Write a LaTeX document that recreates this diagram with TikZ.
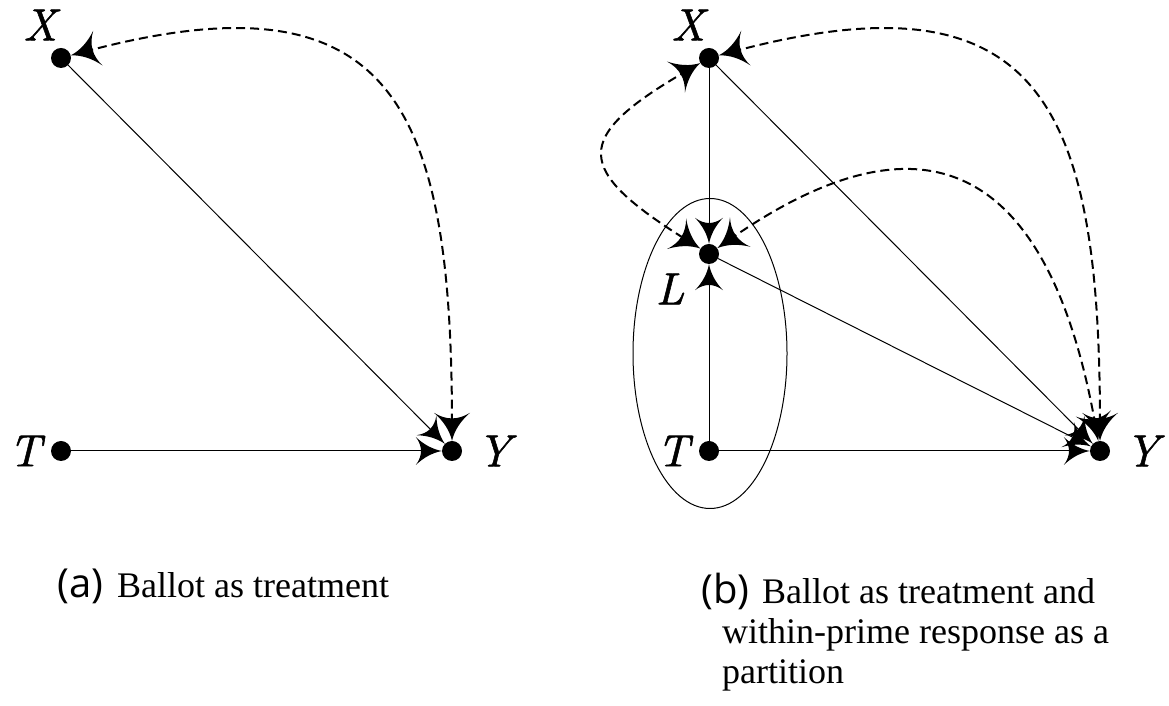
\RequirePackage{fix-cm}
\documentclass[tikz,border=0pt]{standalone}
\usepackage{fontspec}
\newfontfamily\capsans{Open Sans}
\newfontfamily\capserif{Liberation Serif}
\newfontface\labfont{lmroman10-italic.otf}[FakeBold=1.2]
\usetikzlibrary{arrows.meta}
\pgfdeclarearrow{
  name = Cusp,
  parameters = {\the\pgfarrowlength,\the\pgfarrowwidth},
  setup code = {
    \pgfarrowssettipend{0pt}
    \pgfarrowssetlineend{-.5\pgfarrowlength}
    \pgfarrowssetvisualbackend{-.6\pgfarrowlength}
    \pgfarrowssetbackend{-\pgfarrowlength}
    \pgfarrowshullpoint{0pt}{0pt}
    \pgfarrowshullpoint{-\pgfarrowlength}{.5\pgfarrowwidth}
    \pgfarrowshullpoint{-\pgfarrowlength}{-.5\pgfarrowwidth}
    \pgfarrowssavethe\pgfarrowlength
    \pgfarrowssavethe\pgfarrowwidth
  },
  drawing code = {
    \pgfpathmoveto{\pgfqpoint{0pt}{0pt}}
    \pgfpathquadraticcurveto{\pgfpoint{-.55\pgfarrowlength}{.1\pgfarrowwidth}}{\pgfpoint{-\pgfarrowlength}{.5\pgfarrowwidth}}
    \pgfpathquadraticcurveto{\pgfpoint{-.6\pgfarrowlength}{0pt}}{\pgfpoint{-\pgfarrowlength}{-.5\pgfarrowwidth}}
    \pgfpathquadraticcurveto{\pgfpoint{-.55\pgfarrowlength}{-.1\pgfarrowwidth}}{\pgfpoint{0pt}{0pt}}
    \pgfpathclose
    \pgfusepathqfill
  },
  defaults = {length=24pt, width=26pt}
}
\tikzset{
  dot/.style={circle, fill=black, inner sep=0pt, minimum size=20pt},
  lab/.style={inner sep=0pt, font=\labfont\fontsize{45}{50}\selectfont},
  edge/.style={line width=1pt, -{Cusp[length=26pt,width=28pt]}},
  biedge/.style={line width=2pt, dash pattern=on 9pt off 5pt,
     {Cusp[length=28pt,width=36pt]}-{Cusp[length=28pt,width=36pt]}},
  captext/.style={inner sep=0pt, anchor=base west, font=\capserif\fontsize{36}{42}\selectfont},
  caplabel/.style={inner sep=0pt, font=\capsans\fontsize{40}{48}\selectfont},
}
\begin{document}
\begin{tikzpicture}[x=1pt,y=1pt]
\useasboundingbox (0,0) rectangle (1169,706);
% panel (a)
\node[dot] (aX) at (61,648) {};
\node[dot] (aT) at (61,255) {};
\node[dot] (aY) at (452,255) {};
\node[lab] (aXl) at (40,681) {X};
\node[lab] (aTl) at (25,255) {T};
\node[lab] (aYl) at (494,255) {Y};
\draw[edge] (aX) -- (aY);
\draw[edge] (aT) -- (aY);
\draw[biedge] (aX) .. controls +(15:345) and +(90:345) .. (aY);
% panel (b)
\node[dot] (bX) at (709,648) {};
\node[dot] (bL) at (709,452) {};
\node[dot] (bT) at (709,255) {};
\node[dot] (bY) at (1100,255) {};
\node[lab] (bXl) at (688,681) {X};
\node[lab] (bLl) at (670,417) {L};
\node[lab] (bTl) at (673,255) {T};
\node[lab] (bYl) at (1142,255) {Y};
\draw[line width=1pt] (710,352.5) ellipse [x radius=77, y radius=155];
\draw[edge] (bX) -- (bL);
\draw[edge] (bT) -- (bL);
\draw[edge] (bT) -- (bY);
\draw[edge] (bX) -- (bY);
\draw[edge] (bL) -- (bY);
\draw[biedge] (bX) .. controls +(15:345) and +(90:345) .. (bY);
\draw[biedge] (bX) .. controls +(210:160) and +(148:160) .. (bL);
\draw[biedge] (bL) .. controls +(35:210) and +(100:345) .. (bY);
% captions
\node[caplabel, anchor=base east] (capa) at (104,108) {(a)};
\node[captext] (capat) at (117,108) {Ballot as treatment};
\node[caplabel, anchor=base west] (capb) at (701,102) {(b)};
\node[captext] (capb1) at (762,102) {Ballot as treatment and};
\node[captext] (capb2) at (722,62) {within-prime response as a};
\node[captext] (capb3) at (722,22) {partition};
\end{tikzpicture}
\end{document}
